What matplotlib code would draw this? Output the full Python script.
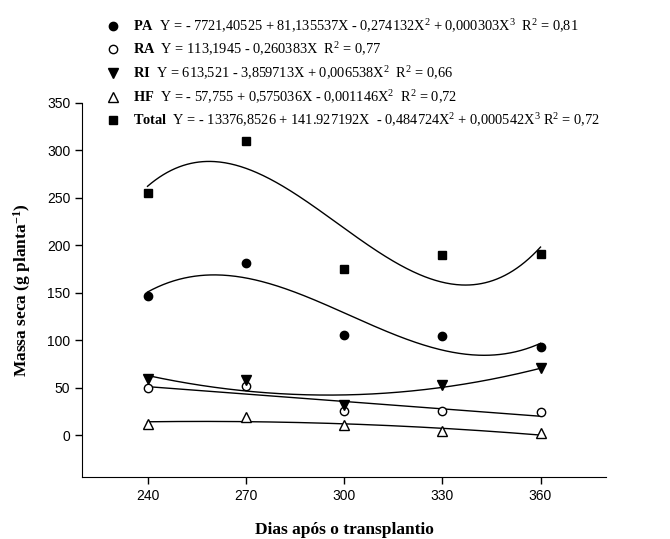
import numpy as np
import matplotlib
matplotlib.use("Agg")
import matplotlib.pyplot as plt

plt.rcParams['mathtext.fontset'] = 'custom'
plt.rcParams['mathtext.rm'] = 'Liberation Serif'
plt.rcParams['mathtext.bf'] = 'Liberation Serif:bold'
plt.rcParams['mathtext.it'] = 'Liberation Serif:italic'

days = [240, 270, 300, 330, 360]
pa = [147, 181, 106, 105, 93]
ra = [50, 52, 26, 26, 24]
ri = [59, 58, 32, 53, 71]
hf = [12, 19, 11, 4, 2]
total = [255, 310, 175, 190, 191]

# polynomial degree of each regression model printed on the chart
deg_pa, deg_ra, deg_ri, deg_hf, deg_total = 3, 1, 2, 2, 3

labels = [
    r"$\mathbf{PA}$  Y = - 7721,40525 + 81,135537X - 0,274132X$^2$ + 0,000303X$^3$  R$^2$ = 0,81",
    r"$\mathbf{RA}$  Y = 113,1945 - 0,260383X  R$^2$ = 0,77",
    r"$\mathbf{RI}$  Y = 613,521 - 3,859713X + 0,006538X$^2$  R$^2$ = 0,66",
    r"$\mathbf{HF}$  Y = - 57,755 + 0,575036X - 0,001146X$^2$  R$^2$ = 0,72",
    r"$\mathbf{Total}$  Y = - 13376,8526 + 141.927192X  - 0,484724X$^2$ + 0,000542X$^3$ R$^2$ = 0,72",
]

fig = plt.figure(figsize=(6.7, 5.39), dpi=100)
ax = fig.add_axes([0.1224, 0.115, 0.7821, 0.694])

xs = np.linspace(240, 360, 300)

series = [
    (pa, deg_pa, dict(marker='o', color='black', markerfacecolor='black', markersize=6)),
    (ra, deg_ra, dict(marker='o', color='black', markerfacecolor='white', markersize=6)),
    (ri, deg_ri, dict(marker='v', color='black', markerfacecolor='black', markersize=7)),
    (hf, deg_hf, dict(marker='^', color='black', markerfacecolor='white', markersize=7)),
    (total, deg_total, dict(marker='s', color='black', markerfacecolor='black', markersize=6)),
]
handles = []
x0 = 300.0
for vals, d, st in series:
    c = np.polyfit(np.array(days) - x0, vals, d)
    ax.plot(xs, np.polyval(c, xs - x0), color='black', lw=1.0, zorder=2)
    h, = ax.plot(days, vals, linestyle='none', markeredgewidth=1.0, zorder=3, **st)
    handles.append(h)

ax.set_xlim(220, 380)
ax.set_ylim(-44, 350)
ax.set_xticks(days)
ax.set_yticks(np.arange(0, 351, 50))
for s in ['top', 'right']:
    ax.spines[s].set_visible(False)
ax.tick_params(direction='out', length=5, width=1, labelsize=10)
for lbl in ax.get_xticklabels() + ax.get_yticklabels():
    lbl.set_fontfamily('Liberation Sans')

ax.set_xlabel('Dias após o transplantio', fontfamily='Liberation Serif',
              fontweight='bold', fontsize=12.5, labelpad=14)
ax.set_ylabel('Massa seca (g planta$^{\\mathbf{-1}}$)', fontfamily='Liberation Serif',
              fontweight='bold', fontsize=12.5, labelpad=10)

leg = fig.legend(handles, labels, loc='upper left', bbox_to_anchor=(0.155, 0.968),
                 frameon=False, prop={'family': 'Liberation Serif', 'size': 10.4},
                 labelspacing=0.42, handletextpad=0.8, handlelength=1.2,
                 borderaxespad=0, borderpad=0)

fig.savefig('out.png', dpi=100)
